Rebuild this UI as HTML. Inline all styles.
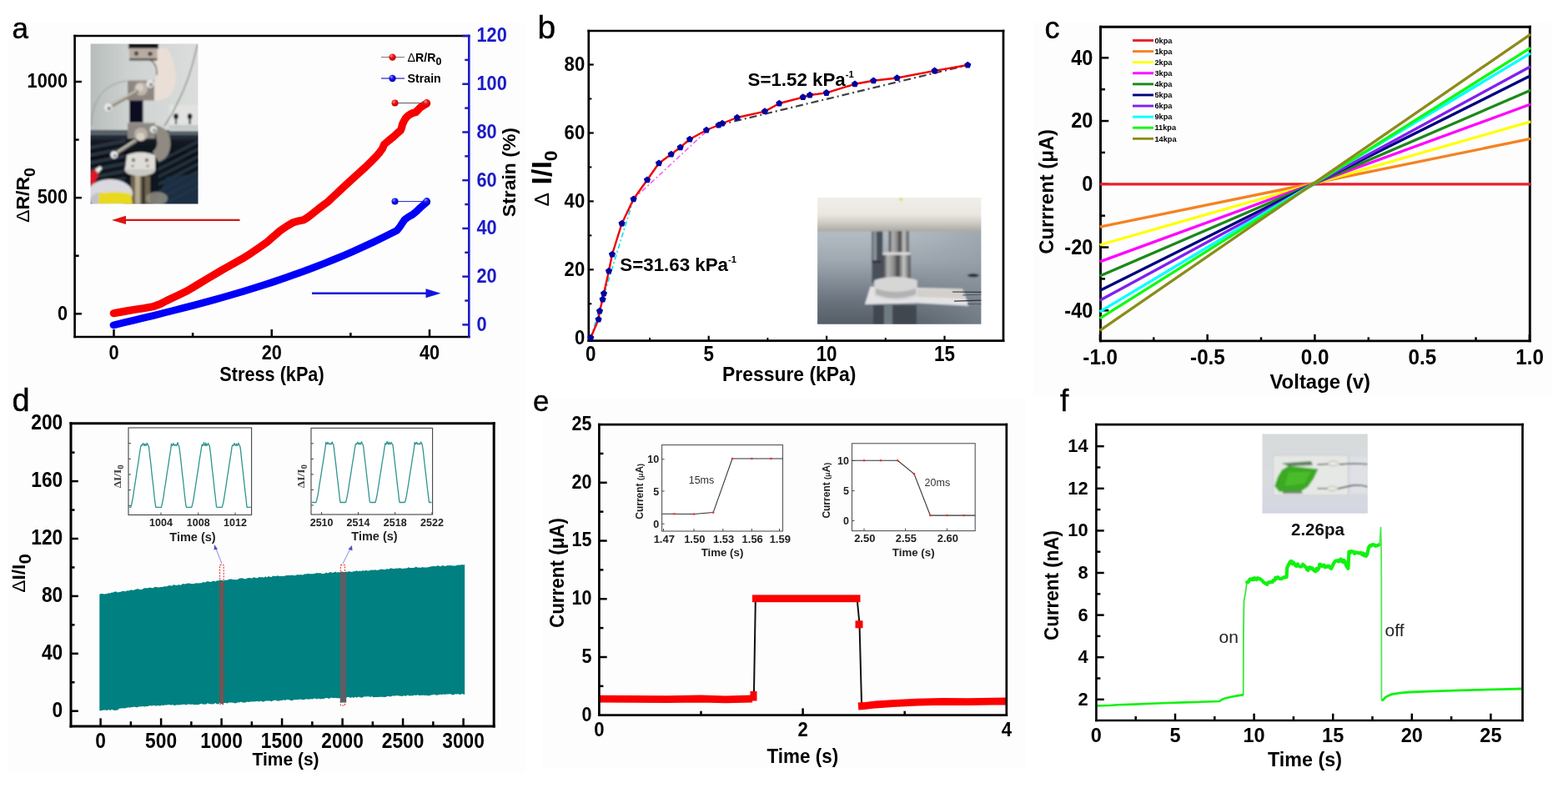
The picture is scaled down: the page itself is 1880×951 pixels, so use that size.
<!DOCTYPE html>
<html lang="en">
<head>
<meta charset="utf-8">
<title>Figure</title>
<style>
html,body{margin:0;padding:0;background:#fff;}
body{width:1880px;height:951px;overflow:hidden;}
svg{display:block;font-family:"Liberation Sans",sans-serif;filter:blur(0.55px);}
</style>
</head>
<body>
<svg width="1880" height="951" viewBox="0 0 1880 951">
<defs>
<radialGradient id="gRed" cx="0.35" cy="0.3" r="0.7"><stop offset="0" stop-color="#ff9a9a"/><stop offset="0.4" stop-color="#f01818"/><stop offset="1" stop-color="#c00000"/></radialGradient>
<radialGradient id="gBlue" cx="0.35" cy="0.3" r="0.7"><stop offset="0" stop-color="#9a9aff"/><stop offset="0.4" stop-color="#1818f0"/><stop offset="1" stop-color="#0000b0"/></radialGradient>
<filter id="b1" x="-10%" y="-10%" width="120%" height="120%"><feGaussianBlur stdDeviation="1"/></filter>
<filter id="b2" x="-10%" y="-10%" width="120%" height="120%"><feGaussianBlur stdDeviation="2"/></filter>
<filter id="b3" x="-20%" y="-20%" width="140%" height="140%"><feGaussianBlur stdDeviation="3.5"/></filter>
</defs>
<rect x="0" y="0" width="1880" height="951" fill="#ffffff"/>
<rect x="10" y="27" width="620" height="435" fill="#fdfdfd"/>
<rect x="1240" y="27" width="620" height="447" fill="#fdfdfd"/>
<rect x="10" y="462" width="620" height="465" fill="#fdfdfd"/>
<rect x="650" y="478" width="580" height="443" fill="#fdfdfd"/>
<g id="panel-a">
<g id="photo-a"><clipPath id="cpa"><rect x="108.6" y="52.5" width="128.9" height="191.9"/></clipPath>
<linearGradient id="pa1" x1="0" y1="0" x2="1" y2="0"><stop offset="0" stop-color="#b4bbb9"/><stop offset="0.35" stop-color="#cdd2d0"/><stop offset="1" stop-color="#dcdedc"/></linearGradient>
<linearGradient id="pa2" x1="0" y1="0" x2="0" y2="1"><stop offset="0" stop-color="#1c242e"/><stop offset="0.3" stop-color="#0c1018"/><stop offset="1" stop-color="#121c28"/></linearGradient>
<g clip-path="url(#cpa)"><g filter="url(#b1)">
<rect x="104.00" y="48.00" width="138.00" height="112.00" fill="url(#pa1)" stroke="none" stroke-width="1"/>
<rect x="104.00" y="156.00" width="138.00" height="92.00" fill="url(#pa2)" stroke="none" stroke-width="1"/>
<rect x="203.00" y="126.00" width="38.00" height="31.00" fill="#e2e3e0" stroke="none" stroke-width="1"/>
<rect x="203.00" y="150.00" width="38.00" height="6.00" fill="#c4c8c8" stroke="none" stroke-width="1"/>
<ellipse cx="211" cy="139.5" rx="2.8" ry="3.6" fill="#15151c"/><rect x="210" y="140" width="2" height="9" fill="#15151c"/>
<ellipse cx="227.6" cy="139.5" rx="2.8" ry="3.6" fill="#15151c"/><rect x="226.6" y="140" width="2" height="9" fill="#15151c"/>
<rect x="104.00" y="157.00" width="138.00" height="5.00" fill="#59626a" stroke="none" stroke-width="1"/>
<rect x="104.00" y="162.00" width="138.00" height="5.00" fill="#222c36" stroke="none" stroke-width="1"/>
<polygon points="104,176 150,167 150,171 104,180" fill="#34404c" opacity="0.75"/>
<polygon points="190,192 241,166 241,170 190,196" fill="#303c48" opacity="0.75"/>
<polygon points="104,185 150,176 150,180 104,189" fill="#34404c" opacity="0.75"/>
<polygon points="190,201 241,175 241,179 190,205" fill="#303c48" opacity="0.75"/>
<polygon points="104,194 150,185 150,189 104,198" fill="#34404c" opacity="0.75"/>
<polygon points="190,210 241,184 241,188 190,214" fill="#303c48" opacity="0.75"/>
<polygon points="104,203 150,194 150,198 104,207" fill="#34404c" opacity="0.75"/>
<polygon points="190,219 241,193 241,197 190,223" fill="#303c48" opacity="0.75"/>
<polygon points="104,212 150,203 150,207 104,216" fill="#34404c" opacity="0.75"/>
<polygon points="190,228 241,202 241,206 190,232" fill="#303c48" opacity="0.75"/>
<polygon points="104,221 150,212 150,216 104,225" fill="#34404c" opacity="0.75"/>
<polygon points="190,237 241,211 241,215 190,241" fill="#303c48" opacity="0.75"/>
<polygon points="104,230 150,221 150,225 104,234" fill="#34404c" opacity="0.75"/>
<polygon points="190,246 241,220 241,224 190,250" fill="#303c48" opacity="0.75"/>
<polygon points="186,244 200,212 241,208 241,248 186,248" fill="#1e3348" opacity="0.85"/>
<path d="M186,57 L200,58 Q211,72 210.5,98 Q208,119 188,120.5 L176,120.5 L176,104 Q189,99 188,84 Q186.5,73 175,70 L175,57 Z" fill="#eadfd6"/>
<path d="M176,70 Q189,74 188,90" fill="none" stroke="#6a6a66" stroke-width="1.5"/>
<rect x="154.00" y="52.00" width="36.00" height="6.50" fill="#15151a" stroke="none" stroke-width="1"/>
<rect x="155.00" y="58.00" width="33.50" height="12.00" fill="#b7aca2" stroke="none" stroke-width="1"/>
<circle cx="163.5" cy="64" r="2.6" fill="#4a3c3a"/><circle cx="180" cy="64.5" r="2.6" fill="#4a3c3a"/>
<rect x="155.00" y="70.00" width="33.50" height="2.60" fill="#4c4c4a" stroke="none" stroke-width="1"/>
<rect x="155.00" y="118.00" width="16.50" height="29.00" fill="#0b0b22" stroke="none" stroke-width="1"/>
<rect x="153.00" y="96.50" width="32.00" height="24.00" fill="#8e8680" stroke="none" stroke-width="1"/>
<circle cx="169" cy="106.5" r="8" fill="#bfb6ab"/><circle cx="167.5" cy="105" r="4.5" fill="#d8d0c6"/>
<circle cx="180" cy="100.6" r="4.8" fill="#e6e6e6"/><circle cx="181" cy="101.6" r="2.2" fill="#8a8a8a"/>
<line x1="164" y1="110" x2="132" y2="127.5" stroke="#8a857c" stroke-width="4.6" stroke-linecap="round"/>
<line x1="163" y1="109" x2="133" y2="125.6" stroke="#d2ccc0" stroke-width="1.6" stroke-linecap="round"/>
<circle cx="129.8" cy="128.8" r="4.8" fill="#eaeaea"/><circle cx="130.8" cy="130" r="2.3" fill="#808080"/>
<path d="M109.5,150 Q110,120 128,106 Q140,98 152,97" fill="none" stroke="#8c908c" stroke-width="0.9"/>
<path d="M236.8,53 Q228,95 212,125 Q205,140 197,151" fill="none" stroke="#5d6660" stroke-width="1.1"/>
<rect x="153.00" y="147.50" width="33.00" height="18.50" fill="#8c8782" stroke="none" stroke-width="1"/>
<path d="M185,150 Q204,152 204.5,172 Q204,190 190,194 L183,182 Q190,176 188,168 Z" fill="#8f8a82"/>
<circle cx="169" cy="161" r="8" fill="#b8b0a6"/><circle cx="168.5" cy="164" r="4.8" fill="#d6d0c8"/>
<circle cx="184" cy="155.3" r="4.2" fill="#e4e4e4"/><circle cx="185" cy="156.2" r="2" fill="#8a8a8a"/>
<line x1="162.5" y1="169" x2="140" y2="183.5" stroke="#8a857c" stroke-width="4.2" stroke-linecap="round"/>
<line x1="161.5" y1="168.2" x2="141" y2="181.6" stroke="#d6d0c6" stroke-width="1.5" stroke-linecap="round"/>
<circle cx="136.8" cy="185.6" r="4.4" fill="#eeeeee"/><circle cx="137.6" cy="186.6" r="2" fill="#858585"/>
<ellipse cx="168" cy="203" rx="18.5" ry="8.5" fill="#c9c8c2"/>
<path d="M152,186 Q168,179 186,186 L186,203 L150,203 Z" fill="#dddcd6"/>
<circle cx="160" cy="192" r="2.2" fill="#77736c"/><circle cx="176" cy="192" r="2.2" fill="#77736c"/><circle cx="159" cy="199" r="1.6" fill="#8a8680"/><circle cx="177" cy="199" r="1.6" fill="#8a8680"/>
<rect x="157.00" y="211.00" width="23.00" height="34.00" fill="#6e6450" stroke="none" stroke-width="1"/>
<rect x="162.00" y="211.00" width="6.00" height="34.00" fill="#b5ab92" stroke="none" stroke-width="1"/>
<rect x="170.50" y="211.00" width="3.00" height="34.00" fill="#2e2a26" stroke="none" stroke-width="1"/>
<ellipse cx="188" cy="238" rx="13" ry="8" fill="#9a958a" opacity="0.8"/>
<polygon points="108,207 114,203 118,210 112,222 108,222" fill="#e01626"/>
<polygon points="114,203 120,199 122.5,202 117.5,208" fill="#ecece8"/>
<ellipse cx="132" cy="232" rx="27" ry="17" fill="#d9d9df"/>
<ellipse cx="120" cy="240" rx="12" ry="9" fill="#c2c2c6"/>
<path d="M118.5,232 Q138,228.5 157,232.5 L159,245 L118,245 Z" fill="#e9d91e"/>
</g></g></g>
<line x1="88.30" y1="43.00" x2="563.60" y2="43.00" stroke="#000" stroke-width="2.6"/>
<line x1="88.30" y1="404.00" x2="563.60" y2="404.00" stroke="#000" stroke-width="2.6"/>
<line x1="89.60" y1="41.70" x2="89.60" y2="405.30" stroke="#000" stroke-width="2.6"/>
<line x1="562.30" y1="41.70" x2="562.30" y2="405.30" stroke="#1a1ac8" stroke-width="2.6"/>
<line x1="89.60" y1="376.30" x2="97.90" y2="376.30" stroke="#000" stroke-width="2.5"/>
<line x1="89.60" y1="237.15" x2="97.90" y2="237.15" stroke="#000" stroke-width="2.5"/>
<line x1="89.60" y1="98.00" x2="97.90" y2="98.00" stroke="#000" stroke-width="2.5"/>
<line x1="89.60" y1="306.73" x2="94.60" y2="306.73" stroke="#000" stroke-width="2.5"/>
<line x1="89.60" y1="167.58" x2="94.60" y2="167.58" stroke="#000" stroke-width="2.5"/>
<line x1="136.50" y1="404.00" x2="136.50" y2="395.00" stroke="#000" stroke-width="2.5"/>
<line x1="325.75" y1="404.00" x2="325.75" y2="395.00" stroke="#000" stroke-width="2.5"/>
<line x1="515.00" y1="404.00" x2="515.00" y2="395.00" stroke="#000" stroke-width="2.5"/>
<line x1="231.12" y1="404.00" x2="231.12" y2="399.00" stroke="#000" stroke-width="2.5"/>
<line x1="420.38" y1="404.00" x2="420.38" y2="399.00" stroke="#000" stroke-width="2.5"/>
<line x1="562.30" y1="389.40" x2="554.30" y2="389.40" stroke="#1a1ac8" stroke-width="2.5"/>
<line x1="562.30" y1="331.67" x2="554.30" y2="331.67" stroke="#1a1ac8" stroke-width="2.5"/>
<line x1="562.30" y1="273.94" x2="554.30" y2="273.94" stroke="#1a1ac8" stroke-width="2.5"/>
<line x1="562.30" y1="216.21" x2="554.30" y2="216.21" stroke="#1a1ac8" stroke-width="2.5"/>
<line x1="562.30" y1="158.48" x2="554.30" y2="158.48" stroke="#1a1ac8" stroke-width="2.5"/>
<line x1="562.30" y1="100.75" x2="554.30" y2="100.75" stroke="#1a1ac8" stroke-width="2.5"/>
<line x1="562.30" y1="43.02" x2="554.30" y2="43.02" stroke="#1a1ac8" stroke-width="2.5"/>
<line x1="562.30" y1="360.53" x2="557.30" y2="360.53" stroke="#1a1ac8" stroke-width="2.5"/>
<line x1="562.30" y1="302.80" x2="557.30" y2="302.80" stroke="#1a1ac8" stroke-width="2.5"/>
<line x1="562.30" y1="245.07" x2="557.30" y2="245.07" stroke="#1a1ac8" stroke-width="2.5"/>
<line x1="562.30" y1="187.34" x2="557.30" y2="187.34" stroke="#1a1ac8" stroke-width="2.5"/>
<line x1="562.30" y1="129.62" x2="557.30" y2="129.62" stroke="#1a1ac8" stroke-width="2.5"/>
<line x1="562.30" y1="71.88" x2="557.30" y2="71.88" stroke="#1a1ac8" stroke-width="2.5"/>
<text transform="translate(81.00,383.60) scale(0.885,1)" font-size="24.6" text-anchor="end" font-weight="bold" fill="#000">0</text>
<text transform="translate(81.00,244.45) scale(0.885,1)" font-size="24.6" text-anchor="end" font-weight="bold" fill="#000">500</text>
<text transform="translate(81.00,105.30) scale(0.885,1)" font-size="24.6" text-anchor="end" font-weight="bold" fill="#000">1000</text>
<text transform="translate(136.50,430.50) scale(0.885,1)" font-size="24.6" text-anchor="middle" font-weight="bold" fill="#000">0</text>
<text transform="translate(325.75,430.50) scale(0.885,1)" font-size="24.6" text-anchor="middle" font-weight="bold" fill="#000">20</text>
<text transform="translate(515.00,430.50) scale(0.885,1)" font-size="24.6" text-anchor="middle" font-weight="bold" fill="#000">40</text>
<text transform="translate(571.50,396.70) scale(0.885,1)" font-size="24.6" text-anchor="start" font-weight="bold" fill="#1a1ac8">0</text>
<text transform="translate(571.50,338.97) scale(0.885,1)" font-size="24.6" text-anchor="start" font-weight="bold" fill="#1a1ac8">20</text>
<text transform="translate(571.50,281.24) scale(0.885,1)" font-size="24.6" text-anchor="start" font-weight="bold" fill="#1a1ac8">40</text>
<text transform="translate(571.50,223.51) scale(0.885,1)" font-size="24.6" text-anchor="start" font-weight="bold" fill="#1a1ac8">60</text>
<text transform="translate(571.50,165.78) scale(0.885,1)" font-size="24.6" text-anchor="start" font-weight="bold" fill="#1a1ac8">80</text>
<text transform="translate(571.50,108.05) scale(0.885,1)" font-size="24.6" text-anchor="start" font-weight="bold" fill="#1a1ac8">100</text>
<text transform="translate(571.50,50.32) scale(0.885,1)" font-size="24.6" text-anchor="start" font-weight="bold" fill="#1a1ac8">120</text>
<text transform="translate(326.00,456.50) scale(0.9,1)" font-size="24.1" text-anchor="middle" font-weight="bold" fill="#000">Stress (kPa)</text>
<text transform="translate(35.00,234.00) rotate(-90) scale(1.035,1)" font-size="22.3" text-anchor="middle" font-weight="bold" fill="#000"><tspan font-weight="normal">Δ</tspan>R/R<tspan font-size="19" dy="6.5">0</tspan></text>
<text transform="translate(617.80,206.60) rotate(-90) scale(1.03,1)" font-size="22.3" text-anchor="middle" font-weight="bold" fill="#000">Strain (%)</text>
<text transform="translate(14.50,45.50)" font-size="35" text-anchor="start" font-weight="normal" fill="#000" stroke="#000" stroke-width="0.4">a</text>
<polyline points="136.3,375.7 148.0,373.6 160.0,371.5 172.0,369.8 183.1,367.8 192.0,364.6 200.0,360.5 207.0,357.2 214.6,353.6 225.2,348.4 232.5,344.0 239.9,339.5 248.0,334.6 256.7,329.5 267.2,323.2 277.1,317.8 290.4,310.3 300.0,304.3 310.0,297.5 320.0,290.5 328.0,283.6 335.8,276.8 343.5,271.5 351.5,266.8 358.0,264.9 364.2,263.7 368.5,261.0 372.6,257.9 383.1,249.5 393.6,241.6 400.0,235.5 409.5,226.6 418.9,217.8 428.3,209.3 437.8,200.8 444.5,194.3 451.1,187.6 455.0,183.0 458.6,178.1 460.5,173.4 466.0,168.6 471.9,163.9 476.0,160.2 480.4,156.3 481.6,153.0 482.3,149.7 484.0,145.8 486.1,142.2 489.0,139.0 492.7,136.5 495.5,135.4 498.4,134.6 501.2,131.9 504.0,128.9 508.0,126.3 511.6,124.2" fill="none" stroke="#f80000" stroke-width="9.2" stroke-linecap="round" stroke-linejoin="round"/>
<polyline points="136.0,389.9 148.0,387.1 160.0,384.2 172.0,381.3 184.0,378.4 196.0,375.4 208.0,372.4 220.0,369.3 232.0,366.2 244.0,363.0 256.0,359.7 268.0,356.4 280.0,352.9 292.0,349.3 304.0,345.7 316.0,341.9 328.0,338.0 340.0,333.9 352.0,329.7 364.0,325.4 376.0,320.9 388.0,316.2 400.0,311.4 412.0,306.4 424.0,301.2 436.0,295.8 448.0,290.2 460.0,284.4 472.0,278.3 476.0,276.3 479.5,272.0 481.3,269.2 485.1,263.5 489.5,260.3 494.6,257.4 499.5,253.3 504.0,249.0 508.0,245.5 511.6,242.4" fill="none" stroke="#0000f8" stroke-width="8.7" stroke-linecap="round" stroke-linejoin="round"/>
<line x1="473.50" y1="123.60" x2="511.60" y2="123.60" stroke="#555" stroke-width="1"/>
<circle cx="473.5" cy="123.6" r="4" fill="url(#gRed)"/>
<circle cx="511.6" cy="123.6" r="4.5" fill="url(#gRed)"/>
<line x1="473.50" y1="241.60" x2="511.60" y2="241.60" stroke="#22c" stroke-width="1"/>
<circle cx="473.5" cy="241.6" r="4" fill="url(#gBlue)"/>
<circle cx="511.6" cy="241.6" r="4.5" fill="url(#gBlue)"/>
<line x1="457.00" y1="68.60" x2="485.00" y2="68.60" stroke="#777" stroke-width="1"/>
<circle cx="470.5" cy="68.6" r="4.2" fill="url(#gRed)"/>
<line x1="457.00" y1="94.00" x2="485.00" y2="94.00" stroke="#22c" stroke-width="1.2"/>
<circle cx="470.5" cy="94" r="4.2" fill="url(#gBlue)"/>
<text transform="translate(488.50,74.00) scale(0.93,1)" font-size="15.3" text-anchor="start" font-weight="bold" fill="#000"><tspan font-weight="normal">Δ</tspan>R/R<tspan font-size="13.5" dy="3.5">0</tspan></text>
<text transform="translate(488.50,98.50) scale(0.93,1)" font-size="15.3" text-anchor="start" font-weight="bold" fill="#000">Strain</text>
<line x1="148.00" y1="263.90" x2="287.50" y2="263.90" stroke="#dc1414" stroke-width="2.4"/>
<polygon points="134,263.9 151,258.7 151,269.1" fill="#dc1414"/>
<line x1="374.00" y1="351.80" x2="512.00" y2="351.80" stroke="#1414e0" stroke-width="2.6"/>
<polygon points="528.5,351.8 510.5,346.3 510.5,357.3" fill="#1414e0"/>
</g>
<g id="panel-b">
<g id="photo-b"><clipPath id="cpb"><rect x="980.1" y="237" width="196.3" height="151.7"/></clipPath>
<linearGradient id="pb1" x1="0" y1="0" x2="0" y2="1"><stop offset="0" stop-color="#b9c1c8"/><stop offset="0.35" stop-color="#9fa8b0"/><stop offset="0.75" stop-color="#69727c"/><stop offset="1" stop-color="#525a63"/></linearGradient>
<linearGradient id="pb2" x1="0" y1="0" x2="0" y2="1"><stop offset="0" stop-color="#f1efe9"/><stop offset="0.55" stop-color="#e9e7e0"/><stop offset="0.8" stop-color="#c9c7bf"/><stop offset="1" stop-color="#a9a8a2"/></linearGradient>
<linearGradient id="pb3" x1="0" y1="0" x2="1" y2="0"><stop offset="0" stop-color="#34373c"/><stop offset="0.18" stop-color="#b4b4b4"/><stop offset="0.4" stop-color="#8c8c8c"/><stop offset="0.55" stop-color="#444444"/><stop offset="0.75" stop-color="#c8c8c8"/><stop offset="1" stop-color="#4c4e52"/></linearGradient>
<linearGradient id="pb4" x1="0" y1="0" x2="1" y2="0"><stop offset="0" stop-color="#7e868e" stop-opacity="0"/><stop offset="0.5" stop-color="#8e969e" stop-opacity="0"/><stop offset="1" stop-color="#8e98a2" stop-opacity="0.55"/></linearGradient>
<g clip-path="url(#cpb)"><g filter="url(#b1)">
<rect x="976.00" y="270.00" width="205.00" height="123.00" fill="url(#pb1)" stroke="none" stroke-width="1"/>
<rect x="976.00" y="270.00" width="205.00" height="123.00" fill="url(#pb4)" stroke="none" stroke-width="1"/>
<rect x="1047.00" y="366.00" width="52.00" height="26.00" fill="#3f4750" stroke="none" stroke-width="1"/>
<rect x="1060.00" y="366.00" width="10.00" height="26.00" fill="#707a82" stroke="none" stroke-width="1"/>
<rect x="1045.40" y="277.00" width="13.00" height="62.00" fill="#4a5058" stroke="none" stroke-width="1"/>
<rect x="1047.00" y="277.00" width="4.00" height="35.00" fill="#8a929a" stroke="none" stroke-width="1"/>
<rect x="1045.40" y="313.00" width="11.00" height="2.00" fill="#20242a" stroke="none" stroke-width="1"/>
<rect x="976.00" y="233.00" width="205.00" height="44.50" fill="url(#pb2)" stroke="none" stroke-width="1"/>
<circle cx="1080.4" cy="239" r="2" fill="#e6d24a"/>
<rect x="1065.70" y="277.00" width="24.00" height="28.00" fill="url(#pb3)" stroke="none" stroke-width="1"/>
<rect x="1058.30" y="302.50" width="33.50" height="37.00" fill="url(#pb3)" stroke="none" stroke-width="1"/>
<rect x="1058.30" y="302.50" width="33.50" height="3.20" fill="#dcdcdc" stroke="none" stroke-width="1"/>
<polygon points="1037,365 1043.6,343.7 1154,346.4 1161.5,366.8 1100,363.5" fill="#e3e3e6"/>
<polygon points="1100,347 1154,347.5 1157,358 1100,356" fill="#d3cfc9"/>
<path d="M1048.2,336 Q1074,328 1099.7,336 L1099.7,355 Q1074,365 1048.2,355 Z" fill="#d6d6d6"/>
<path d="M1050,346 Q1074,354 1098,346 L1098,353 Q1074,362 1050,353 Z" fill="#b2b2b2"/>
<ellipse cx="1166.8" cy="330.3" rx="7" ry="2" fill="#1a1c20"/>
</g>
<line x1="1142.00" y1="350.00" x2="1177.00" y2="350.30" stroke="#34343a" stroke-width="1.2"/>
<line x1="1154.00" y1="354.00" x2="1177.00" y2="353.20" stroke="#55555a" stroke-width="1.0"/>
<line x1="1144.00" y1="361.20" x2="1177.00" y2="360.20" stroke="#34343a" stroke-width="1.2"/>
<line x1="1160.00" y1="364.60" x2="1177.00" y2="364.60" stroke="#55555a" stroke-width="1.0"/>
</g></g>
<line x1="704.45" y1="37.00" x2="1204.35" y2="37.00" stroke="#000" stroke-width="2.7"/>
<line x1="704.45" y1="408.70" x2="1204.35" y2="408.70" stroke="#000" stroke-width="2.7"/>
<line x1="705.80" y1="35.65" x2="705.80" y2="410.05" stroke="#000" stroke-width="2.7"/>
<line x1="1203.00" y1="35.65" x2="1203.00" y2="410.05" stroke="#000" stroke-width="2.7"/>
<line x1="705.80" y1="323.35" x2="711.80" y2="323.35" stroke="#000" stroke-width="2.2"/>
<line x1="705.80" y1="241.40" x2="711.80" y2="241.40" stroke="#000" stroke-width="2.2"/>
<line x1="705.80" y1="159.45" x2="711.80" y2="159.45" stroke="#000" stroke-width="2.2"/>
<line x1="705.80" y1="77.50" x2="711.80" y2="77.50" stroke="#000" stroke-width="2.2"/>
<line x1="705.80" y1="364.32" x2="709.40" y2="364.32" stroke="#000" stroke-width="2.0"/>
<line x1="705.80" y1="282.38" x2="709.40" y2="282.38" stroke="#000" stroke-width="2.0"/>
<line x1="705.80" y1="200.43" x2="709.40" y2="200.43" stroke="#000" stroke-width="2.0"/>
<line x1="705.80" y1="118.48" x2="709.40" y2="118.48" stroke="#000" stroke-width="2.0"/>
<line x1="849.70" y1="408.70" x2="849.70" y2="402.70" stroke="#000" stroke-width="2.2"/>
<line x1="991.10" y1="408.70" x2="991.10" y2="402.70" stroke="#000" stroke-width="2.2"/>
<line x1="1132.50" y1="408.70" x2="1132.50" y2="402.70" stroke="#000" stroke-width="2.2"/>
<line x1="779.00" y1="408.70" x2="779.00" y2="405.10" stroke="#000" stroke-width="2.0"/>
<line x1="920.40" y1="408.70" x2="920.40" y2="405.10" stroke="#000" stroke-width="2.0"/>
<line x1="1061.80" y1="408.70" x2="1061.80" y2="405.10" stroke="#000" stroke-width="2.0"/>
<text transform="translate(701.20,412.50) scale(0.9,1)" font-size="24.6" text-anchor="end" font-weight="bold" fill="#000">0</text>
<text transform="translate(701.20,330.55) scale(0.9,1)" font-size="24.6" text-anchor="end" font-weight="bold" fill="#000">20</text>
<text transform="translate(701.20,248.60) scale(0.9,1)" font-size="24.6" text-anchor="end" font-weight="bold" fill="#000">40</text>
<text transform="translate(701.20,166.65) scale(0.9,1)" font-size="24.6" text-anchor="end" font-weight="bold" fill="#000">60</text>
<text transform="translate(701.20,84.70) scale(0.9,1)" font-size="24.6" text-anchor="end" font-weight="bold" fill="#000">80</text>
<text transform="translate(708.30,432.70) scale(0.9,1)" font-size="24.9" text-anchor="middle" font-weight="bold" fill="#000">0</text>
<text transform="translate(849.70,432.70) scale(0.9,1)" font-size="24.9" text-anchor="middle" font-weight="bold" fill="#000">5</text>
<text transform="translate(991.10,432.70) scale(0.9,1)" font-size="24.9" text-anchor="middle" font-weight="bold" fill="#000">10</text>
<text transform="translate(1132.50,432.70) scale(0.9,1)" font-size="24.9" text-anchor="middle" font-weight="bold" fill="#000">15</text>
<text transform="translate(946.20,457.20) scale(0.951,1)" font-size="24.1" text-anchor="middle" font-weight="bold" fill="#000">Pressure (kPa)</text>
<text transform="translate(660.50,214.00) rotate(-90) scale(1.03,1)" font-size="33" text-anchor="middle" font-weight="bold" fill="#000"><tspan font-weight="normal" font-size="24" dy="-3">Δ</tspan><tspan dy="3"> I/I</tspan><tspan font-size="22" dy="7">0</tspan></text>
<text transform="translate(644.50,46.00)" font-size="39" text-anchor="start" font-weight="normal" fill="#000" stroke="#000" stroke-width="0.4">b</text>
<line x1="708.30" y1="405.00" x2="759.60" y2="238.70" stroke="#00e0f0" stroke-width="1.6" stroke-dasharray="6 3 2 3"/>
<line x1="759.60" y1="238.70" x2="849.00" y2="155.50" stroke="#f060f0" stroke-width="1.6" stroke-dasharray="6 3 2 3"/>
<line x1="861.70" y1="150.00" x2="1160.30" y2="78.00" stroke="#404040" stroke-width="2.2" stroke-dasharray="9 4 2 4"/>
<polyline points="708.3,405.0 717.6,383.0 719.0,373.0 722.6,359.0 724.0,352.0 730.0,325.0 734.0,305.0 745.6,268.0 759.6,238.7 776.0,215.7 790.0,195.7 804.7,185.0 815.7,176.7 827.0,167.0 847.0,156.0 861.7,150.0 866.0,148.0 883.8,141.0 917.0,133.6 934.3,124.0 962.8,116.6 971.0,114.0 990.9,111.4 1025.0,100.8 1047.3,96.8 1075.6,93.5 1120.6,84.9 1160.3,78.0" fill="none" stroke="#f00000" stroke-width="2.4" stroke-linejoin="round"/>
<polygon points="708.3,400.7 712.4,403.7 710.8,408.5 705.8,408.5 704.2,403.7" fill="#0000a0"/>
<polygon points="717.6,378.7 721.7,381.7 720.1,386.5 715.1,386.5 713.5,381.7" fill="#0000a0"/>
<polygon points="719.0,368.7 723.1,371.7 721.5,376.5 716.5,376.5 714.9,371.7" fill="#0000a0"/>
<polygon points="722.6,354.7 726.7,357.7 725.1,362.5 720.1,362.5 718.5,357.7" fill="#0000a0"/>
<polygon points="724.0,347.7 728.1,350.7 726.5,355.5 721.5,355.5 719.9,350.7" fill="#0000a0"/>
<polygon points="730.0,320.7 734.1,323.7 732.5,328.5 727.5,328.5 725.9,323.7" fill="#0000a0"/>
<polygon points="734.0,300.7 738.1,303.7 736.5,308.5 731.5,308.5 729.9,303.7" fill="#0000a0"/>
<polygon points="745.6,263.7 749.7,266.7 748.1,271.5 743.1,271.5 741.5,266.7" fill="#0000a0"/>
<polygon points="759.6,234.4 763.7,237.4 762.1,242.2 757.1,242.2 755.5,237.4" fill="#0000a0"/>
<polygon points="776.0,211.4 780.1,214.4 778.5,219.2 773.5,219.2 771.9,214.4" fill="#0000a0"/>
<polygon points="790.0,191.4 794.1,194.4 792.5,199.2 787.5,199.2 785.9,194.4" fill="#0000a0"/>
<polygon points="804.7,180.7 808.8,183.7 807.2,188.5 802.2,188.5 800.6,183.7" fill="#0000a0"/>
<polygon points="815.7,172.4 819.8,175.4 818.2,180.2 813.2,180.2 811.6,175.4" fill="#0000a0"/>
<polygon points="827.0,162.7 831.1,165.7 829.5,170.5 824.5,170.5 822.9,165.7" fill="#0000a0"/>
<polygon points="847.0,151.7 851.1,154.7 849.5,159.5 844.5,159.5 842.9,154.7" fill="#0000a0"/>
<polygon points="861.7,145.7 865.8,148.7 864.2,153.5 859.2,153.5 857.6,148.7" fill="#0000a0"/>
<polygon points="866.0,143.7 870.1,146.7 868.5,151.5 863.5,151.5 861.9,146.7" fill="#0000a0"/>
<polygon points="883.8,136.7 887.9,139.7 886.3,144.5 881.3,144.5 879.7,139.7" fill="#0000a0"/>
<polygon points="917.0,129.3 921.1,132.3 919.5,137.1 914.5,137.1 912.9,132.3" fill="#0000a0"/>
<polygon points="934.3,119.7 938.4,122.7 936.8,127.5 931.8,127.5 930.2,122.7" fill="#0000a0"/>
<polygon points="962.8,112.3 966.9,115.3 965.3,120.1 960.3,120.1 958.7,115.3" fill="#0000a0"/>
<polygon points="971.0,109.7 975.1,112.7 973.5,117.5 968.5,117.5 966.9,112.7" fill="#0000a0"/>
<polygon points="990.9,107.1 995.0,110.1 993.4,114.9 988.4,114.9 986.8,110.1" fill="#0000a0"/>
<polygon points="1025.0,96.5 1029.1,99.5 1027.5,104.3 1022.5,104.3 1020.9,99.5" fill="#0000a0"/>
<polygon points="1047.3,92.5 1051.4,95.5 1049.8,100.3 1044.8,100.3 1043.2,95.5" fill="#0000a0"/>
<polygon points="1075.6,89.2 1079.7,92.2 1078.1,97.0 1073.1,97.0 1071.5,92.2" fill="#0000a0"/>
<polygon points="1120.6,80.6 1124.7,83.6 1123.1,88.4 1118.1,88.4 1116.5,83.6" fill="#0000a0"/>
<polygon points="1160.3,73.7 1164.4,76.7 1162.8,81.5 1157.8,81.5 1156.2,76.7" fill="#0000a0"/>
<text transform="translate(743.30,325.00) scale(1.015,1)" font-size="22" text-anchor="start" font-weight="bold" fill="#000">S=31.63 kPa<tspan font-size="11" dy="-10">-1</tspan></text>
<text transform="translate(896.50,102.50) scale(1.015,1)" font-size="22" text-anchor="start" font-weight="bold" fill="#000">S=1.52 kPa<tspan font-size="11" dy="-10">-1</tspan></text>
</g>
<g id="panel-c">
<line x1="1319.50" y1="372.28" x2="1329.30" y2="372.28" stroke="#000" stroke-width="2.5"/>
<line x1="1319.50" y1="296.54" x2="1329.30" y2="296.54" stroke="#000" stroke-width="2.5"/>
<line x1="1319.50" y1="220.80" x2="1329.30" y2="220.80" stroke="#000" stroke-width="2.5"/>
<line x1="1319.50" y1="145.06" x2="1329.30" y2="145.06" stroke="#000" stroke-width="2.5"/>
<line x1="1319.50" y1="69.32" x2="1329.30" y2="69.32" stroke="#000" stroke-width="2.5"/>
<line x1="1319.50" y1="334.41" x2="1325.00" y2="334.41" stroke="#000" stroke-width="2.5"/>
<line x1="1319.50" y1="258.67" x2="1325.00" y2="258.67" stroke="#000" stroke-width="2.5"/>
<line x1="1319.50" y1="182.93" x2="1325.00" y2="182.93" stroke="#000" stroke-width="2.5"/>
<line x1="1319.50" y1="107.19" x2="1325.00" y2="107.19" stroke="#000" stroke-width="2.5"/>
<line x1="1318.90" y1="408.90" x2="1318.90" y2="400.90" stroke="#000" stroke-width="2.5"/>
<line x1="1447.65" y1="408.90" x2="1447.65" y2="400.90" stroke="#000" stroke-width="2.5"/>
<line x1="1576.40" y1="408.90" x2="1576.40" y2="400.90" stroke="#000" stroke-width="2.5"/>
<line x1="1705.15" y1="408.90" x2="1705.15" y2="400.90" stroke="#000" stroke-width="2.5"/>
<line x1="1833.90" y1="408.90" x2="1833.90" y2="400.90" stroke="#000" stroke-width="2.5"/>
<line x1="1383.28" y1="408.90" x2="1383.28" y2="404.40" stroke="#000" stroke-width="2.5"/>
<line x1="1512.03" y1="408.90" x2="1512.03" y2="404.40" stroke="#000" stroke-width="2.5"/>
<line x1="1640.78" y1="408.90" x2="1640.78" y2="404.40" stroke="#000" stroke-width="2.5"/>
<line x1="1769.53" y1="408.90" x2="1769.53" y2="404.40" stroke="#000" stroke-width="2.5"/>
<line x1="1318.05" y1="32.30" x2="1835.75" y2="32.30" stroke="#000" stroke-width="2.9"/>
<line x1="1318.05" y1="408.90" x2="1835.75" y2="408.90" stroke="#000" stroke-width="2.9"/>
<line x1="1319.50" y1="30.85" x2="1319.50" y2="410.35" stroke="#000" stroke-width="2.9"/>
<line x1="1834.30" y1="30.85" x2="1834.30" y2="410.35" stroke="#000" stroke-width="2.9"/>
<line x1="1318.70" y1="220.80" x2="1835.10" y2="220.80" stroke="#e8202a" stroke-width="3.3"/>
<line x1="1318.70" y1="272.10" x2="1835.10" y2="166.46" stroke="#f58220" stroke-width="3.3"/>
<line x1="1318.70" y1="293.76" x2="1835.10" y2="145.94" stroke="#ffff00" stroke-width="3.3"/>
<line x1="1318.70" y1="313.90" x2="1835.10" y2="125.04" stroke="#ff00ff" stroke-width="3.3"/>
<line x1="1318.70" y1="331.00" x2="1835.10" y2="108.32" stroke="#1a8a1a" stroke-width="3.3"/>
<line x1="1318.70" y1="348.48" x2="1835.10" y2="90.84" stroke="#000080" stroke-width="3.3"/>
<line x1="1318.70" y1="360.26" x2="1835.10" y2="79.82" stroke="#8020f0" stroke-width="3.3"/>
<line x1="1318.70" y1="373.94" x2="1835.10" y2="63.86" stroke="#00ffff" stroke-width="3.3"/>
<line x1="1318.70" y1="381.92" x2="1835.10" y2="57.40" stroke="#10fa10" stroke-width="3.3"/>
<line x1="1318.70" y1="396.36" x2="1835.10" y2="41.06" stroke="#8b8b1a" stroke-width="3.3"/>
<text transform="translate(1310.30,380.68) scale(0.94,1)" font-size="25" text-anchor="end" font-weight="bold" fill="#000">-40</text>
<text transform="translate(1310.30,304.94) scale(0.94,1)" font-size="25" text-anchor="end" font-weight="bold" fill="#000">-20</text>
<text transform="translate(1310.30,229.20) scale(0.94,1)" font-size="25" text-anchor="end" font-weight="bold" fill="#000">0</text>
<text transform="translate(1310.30,153.46) scale(0.94,1)" font-size="25" text-anchor="end" font-weight="bold" fill="#000">20</text>
<text transform="translate(1310.30,77.72) scale(0.94,1)" font-size="25" text-anchor="end" font-weight="bold" fill="#000">40</text>
<text transform="translate(1319.20,436.80) scale(0.97,1)" font-size="25" text-anchor="middle" font-weight="bold" fill="#000">-1.0</text>
<text transform="translate(1447.95,436.80) scale(0.97,1)" font-size="25" text-anchor="middle" font-weight="bold" fill="#000">-0.5</text>
<text transform="translate(1576.70,436.80) scale(0.97,1)" font-size="25" text-anchor="middle" font-weight="bold" fill="#000">0.0</text>
<text transform="translate(1705.45,436.80) scale(0.97,1)" font-size="25" text-anchor="middle" font-weight="bold" fill="#000">0.5</text>
<text transform="translate(1834.20,436.80) scale(0.97,1)" font-size="25" text-anchor="middle" font-weight="bold" fill="#000">1.0</text>
<text transform="translate(1582.70,466.00) scale(0.977,1)" font-size="24.5" text-anchor="middle" font-weight="bold" fill="#000">Voltage (v)</text>
<text transform="translate(1263.20,229.90) rotate(-90) scale(0.97,1)" font-size="24.6" text-anchor="middle" font-weight="bold" fill="#000">Currrent (μA)</text>
<text transform="translate(1252.50,45.50)" font-size="36" text-anchor="start" font-weight="normal" fill="#000" stroke="#000" stroke-width="0.4">c</text>
<line x1="1358.00" y1="48.50" x2="1383.00" y2="48.50" stroke="#e8202a" stroke-width="2.9"/>
<text transform="translate(1384.50,51.70)" font-size="9.2" text-anchor="start" font-weight="bold" fill="#000">0kpa</text>
<line x1="1358.00" y1="61.59" x2="1383.00" y2="61.59" stroke="#f58220" stroke-width="2.9"/>
<text transform="translate(1384.50,64.79)" font-size="9.2" text-anchor="start" font-weight="bold" fill="#000">1kpa</text>
<line x1="1358.00" y1="74.68" x2="1383.00" y2="74.68" stroke="#ffff00" stroke-width="2.9"/>
<text transform="translate(1384.50,77.88)" font-size="9.2" text-anchor="start" font-weight="bold" fill="#000">2kpa</text>
<line x1="1358.00" y1="87.77" x2="1383.00" y2="87.77" stroke="#ff00ff" stroke-width="2.9"/>
<text transform="translate(1384.50,90.97)" font-size="9.2" text-anchor="start" font-weight="bold" fill="#000">3kpa</text>
<line x1="1358.00" y1="100.86" x2="1383.00" y2="100.86" stroke="#1a8a1a" stroke-width="2.9"/>
<text transform="translate(1384.50,104.06)" font-size="9.2" text-anchor="start" font-weight="bold" fill="#000">4kpa</text>
<line x1="1358.00" y1="113.95" x2="1383.00" y2="113.95" stroke="#000080" stroke-width="2.9"/>
<text transform="translate(1384.50,117.15)" font-size="9.2" text-anchor="start" font-weight="bold" fill="#000">5kpa</text>
<line x1="1358.00" y1="127.04" x2="1383.00" y2="127.04" stroke="#8020f0" stroke-width="2.9"/>
<text transform="translate(1384.50,130.24)" font-size="9.2" text-anchor="start" font-weight="bold" fill="#000">6kpa</text>
<line x1="1358.00" y1="140.13" x2="1383.00" y2="140.13" stroke="#00ffff" stroke-width="2.9"/>
<text transform="translate(1384.50,143.33)" font-size="9.2" text-anchor="start" font-weight="bold" fill="#000">9kpa</text>
<line x1="1358.00" y1="153.22" x2="1383.00" y2="153.22" stroke="#10fa10" stroke-width="2.9"/>
<text transform="translate(1384.50,156.42)" font-size="9.2" text-anchor="start" font-weight="bold" fill="#000">11kpa</text>
<line x1="1358.00" y1="166.31" x2="1383.00" y2="166.31" stroke="#8b8b1a" stroke-width="2.9"/>
<text transform="translate(1384.50,169.51)" font-size="9.2" text-anchor="start" font-weight="bold" fill="#000">14kpa</text>
</g>
<g id="panel-d">
<polygon points="119.3,712.8 121.1,712.0 122.9,712.0 124.8,712.5 126.6,712.3 128.4,712.0 130.2,711.3 132.1,711.5 133.9,710.5 135.7,710.4 137.5,709.5 139.4,709.5 141.2,710.4 143.0,709.9 144.8,709.8 146.7,708.9 148.5,708.8 150.3,709.4 152.1,708.2 154.0,708.5 155.8,708.1 157.6,707.3 159.4,708.0 161.3,707.3 163.1,706.8 164.9,706.1 166.7,706.8 168.6,707.0 170.4,706.9 172.2,705.6 174.0,705.2 175.9,705.2 177.7,705.2 179.5,704.6 181.3,704.9 183.2,705.3 185.0,704.2 186.8,703.7 188.6,704.2 190.5,704.5 192.3,704.0 194.1,704.0 195.9,703.7 197.8,703.1 199.6,703.4 201.4,702.5 203.2,701.9 205.1,702.5 206.9,702.2 208.7,701.1 210.5,702.1 212.4,701.9 214.2,701.1 216.0,701.8 217.8,701.1 219.7,700.0 221.5,700.5 223.3,700.0 225.1,699.5 227.0,699.4 228.8,699.9 230.6,700.2 232.4,700.0 234.2,699.6 236.1,699.2 237.9,699.6 239.7,699.2 241.5,699.2 243.4,698.0 245.2,698.4 247.0,698.1 248.8,697.1 250.7,697.5 252.5,697.9 254.3,697.3 256.1,696.4 258.0,697.4 259.8,696.5 261.6,696.3 263.4,696.1 265.3,695.4 267.1,696.2 268.9,696.2 270.7,695.5 272.6,695.7 274.4,694.8 276.2,694.6 278.0,694.5 279.9,695.3 281.7,694.9 283.5,695.3 285.3,694.8 287.2,693.6 289.0,693.5 290.8,693.3 292.6,694.3 294.5,694.2 296.3,693.4 298.1,692.9 299.9,693.1 301.8,693.8 303.6,692.4 305.4,692.5 307.2,693.3 309.1,692.9 310.9,691.8 312.7,692.5 314.5,691.9 316.4,692.7 318.2,691.3 320.0,692.4 321.8,690.9 323.7,691.8 325.5,692.0 327.3,690.5 329.1,691.1 331.0,691.1 332.8,690.3 334.6,691.1 336.4,691.0 338.2,690.8 340.1,690.9 341.9,690.4 343.7,690.0 345.5,690.1 347.4,689.9 349.2,689.7 351.0,689.7 352.8,690.3 354.7,689.9 356.5,688.9 358.3,689.4 360.1,689.0 362.0,689.5 363.8,689.2 365.6,688.3 367.4,688.5 369.3,687.8 371.1,688.2 372.9,688.2 374.7,688.2 376.6,688.0 378.4,687.6 380.2,687.1 382.0,687.6 383.9,687.0 385.7,688.0 387.5,688.0 389.3,687.8 391.2,686.6 393.0,687.5 394.8,686.6 396.6,686.1 398.5,687.0 400.3,686.6 402.1,685.6 403.9,686.8 405.8,686.1 407.6,686.5 409.4,685.6 411.2,685.7 413.1,686.4 414.9,685.4 416.7,686.1 418.5,684.9 420.4,685.8 422.2,685.8 424.0,685.3 425.8,685.0 427.7,684.2 429.5,685.2 431.3,684.4 433.1,685.0 435.0,684.0 436.8,684.8 438.6,683.8 440.4,684.6 442.3,684.5 444.1,683.8 445.9,683.5 447.7,683.8 449.5,683.3 451.4,683.8 453.2,683.8 455.0,683.3 456.8,682.5 458.7,682.8 460.5,682.9 462.3,682.9 464.1,682.1 466.0,682.8 467.8,681.5 469.6,681.6 471.4,682.0 473.3,682.0 475.1,681.4 476.9,681.8 478.7,681.2 480.6,681.5 482.4,681.9 484.2,681.8 486.0,681.4 487.9,681.6 489.7,680.3 491.5,681.1 493.3,681.0 495.2,681.1 497.0,680.8 498.8,679.6 500.6,680.7 502.5,680.5 504.3,680.9 506.1,680.0 507.9,680.4 509.8,680.6 511.6,680.4 513.4,680.3 515.2,679.8 517.1,679.3 518.9,679.0 520.7,678.9 522.5,679.3 524.4,678.3 526.2,678.6 528.0,679.6 529.8,678.2 531.7,678.3 533.5,679.1 535.3,678.5 537.1,677.9 539.0,678.2 540.8,677.9 542.6,678.5 544.4,678.6 546.3,678.5 548.1,677.7 549.9,677.5 551.7,677.7 553.6,677.1 555.4,677.4 557.2,677.1 557.2,833.0 555.4,832.4 553.6,832.1 551.7,833.3 549.9,832.3 548.1,832.4 546.3,832.2 544.4,833.0 542.6,833.5 540.8,832.5 539.0,832.3 537.1,832.4 535.3,832.5 533.5,833.0 531.7,832.6 529.8,833.0 528.0,832.7 526.2,833.0 524.4,833.8 522.5,833.6 520.7,832.8 518.9,833.2 517.1,833.5 515.2,834.0 513.4,834.4 511.6,833.8 509.8,834.1 507.9,833.8 506.1,833.8 504.3,834.1 502.5,834.1 500.6,833.3 498.8,834.0 497.0,833.4 495.2,834.2 493.3,834.2 491.5,834.6 489.7,834.0 487.9,833.8 486.0,834.9 484.2,834.1 482.4,835.1 480.6,834.8 478.7,834.4 476.9,834.2 475.1,834.0 473.3,834.8 471.4,834.3 469.6,835.0 467.8,835.6 466.0,835.1 464.1,835.0 462.3,835.9 460.5,836.0 458.7,835.8 456.8,835.7 455.0,835.7 453.2,835.9 451.4,836.1 449.5,836.0 447.7,836.2 445.9,835.0 444.1,836.0 442.3,835.3 440.4,835.3 438.6,835.5 436.8,835.3 435.0,836.2 433.1,836.8 431.3,835.9 429.5,835.6 427.7,836.7 425.8,835.7 424.0,837.0 422.2,836.1 420.4,836.9 418.5,835.9 416.7,835.9 414.9,836.7 413.1,837.1 411.2,836.9 409.4,837.7 407.6,837.3 405.8,837.3 403.9,837.3 402.1,836.7 400.3,837.3 398.5,836.7 396.6,836.7 394.8,838.1 393.0,837.3 391.2,837.1 389.3,837.5 387.5,838.3 385.7,838.0 383.9,838.6 382.0,837.4 380.2,838.5 378.4,837.7 376.6,837.6 374.7,838.4 372.9,838.2 371.1,838.5 369.3,838.7 367.4,838.3 365.6,838.8 363.8,839.2 362.0,838.9 360.1,838.6 358.3,839.1 356.5,839.1 354.7,839.3 352.8,838.9 351.0,839.9 349.2,840.2 347.4,839.5 345.5,839.0 343.7,839.1 341.9,839.9 340.1,839.2 338.2,840.1 336.4,839.9 334.6,840.5 332.8,840.7 331.0,839.7 329.1,839.7 327.3,840.3 325.5,841.3 323.7,840.6 321.8,840.5 320.0,840.4 318.2,840.5 316.4,841.6 314.5,841.6 312.7,840.5 310.9,841.5 309.1,840.9 307.2,841.0 305.4,841.6 303.6,841.2 301.8,841.5 299.9,841.4 298.1,842.0 296.3,841.4 294.5,842.6 292.6,842.6 290.8,842.5 289.0,841.6 287.2,842.6 285.3,842.3 283.5,843.0 281.7,843.5 279.9,842.8 278.0,842.6 276.2,842.6 274.4,842.4 272.6,843.6 270.7,842.9 268.9,843.0 267.1,843.7 265.3,843.3 263.4,842.9 261.6,844.4 259.8,844.3 258.0,843.1 256.1,844.4 254.3,844.3 252.5,844.6 250.7,844.1 248.8,843.3 247.0,844.8 245.2,844.5 243.4,844.8 241.5,843.8 239.7,844.6 237.9,845.0 236.1,845.2 234.2,845.1 232.4,845.3 230.6,844.5 228.8,844.9 227.0,844.4 225.1,844.5 223.3,845.6 221.5,844.8 219.7,844.8 217.8,845.0 216.0,845.3 214.2,845.6 212.4,845.3 210.5,845.8 208.7,846.0 206.9,844.9 205.1,845.7 203.2,845.1 201.4,845.1 199.6,845.8 197.8,845.2 195.9,846.3 194.1,845.5 192.3,846.6 190.5,846.2 188.6,846.0 186.8,846.7 185.0,845.7 183.2,846.3 181.3,846.4 179.5,846.1 177.7,847.0 175.9,846.9 174.0,847.5 172.2,847.2 170.4,847.1 168.6,847.5 166.7,847.2 164.9,848.3 163.1,848.2 161.3,847.4 159.4,848.0 157.6,847.9 155.8,848.7 154.0,848.3 152.1,848.7 150.3,849.2 148.5,849.5 146.7,849.2 144.8,849.5 143.0,849.7 141.2,851.4 139.4,851.7 137.5,852.1 135.7,851.5 133.9,850.7 132.1,851.9 130.2,851.0 128.4,852.1 126.6,851.6 124.8,851.6 122.9,851.8 121.1,852.3 119.3,852.2" fill="#008080"/>
<rect x="263.60" y="677.50" width="4.60" height="167.00" fill="none" stroke="#e02020" stroke-width="1" stroke-dasharray="2 1.5"/>
<rect x="264.30" y="697.00" width="3.20" height="147.00" fill="#7a5252" stroke="none" stroke-width="1"/>
<rect x="408.40" y="677.50" width="5.20" height="168.50" fill="none" stroke="#e02020" stroke-width="1" stroke-dasharray="2 1.5"/>
<rect x="407.80" y="686.00" width="7.40" height="156.50" fill="#5c5e66" stroke="none" stroke-width="1"/>
<line x1="266.00" y1="676.00" x2="258.50" y2="657.00" stroke="#6a6ad0" stroke-width="0.8"/>
<polygon points="257,653 261,658.5 256.5,659.5" fill="#5050c0"/>
<line x1="411.00" y1="676.00" x2="420.00" y2="658.00" stroke="#6a6ad0" stroke-width="0.8"/>
<polygon points="422,654 422.5,660.5 417.5,658.5" fill="#5050c0"/>
<line x1="83.50" y1="507.80" x2="593.70" y2="507.80" stroke="#000" stroke-width="3.0"/>
<line x1="83.50" y1="871.00" x2="593.70" y2="871.00" stroke="#000" stroke-width="3.0"/>
<line x1="85.00" y1="506.30" x2="85.00" y2="872.50" stroke="#000" stroke-width="3.0"/>
<line x1="592.20" y1="506.30" x2="592.20" y2="872.50" stroke="#000" stroke-width="3.0"/>
<line x1="85.00" y1="852.70" x2="93.80" y2="852.70" stroke="#000" stroke-width="2.5"/>
<line x1="85.00" y1="783.80" x2="93.80" y2="783.80" stroke="#000" stroke-width="2.5"/>
<line x1="85.00" y1="714.90" x2="93.80" y2="714.90" stroke="#000" stroke-width="2.5"/>
<line x1="85.00" y1="646.00" x2="93.80" y2="646.00" stroke="#000" stroke-width="2.5"/>
<line x1="85.00" y1="577.10" x2="93.80" y2="577.10" stroke="#000" stroke-width="2.5"/>
<line x1="85.00" y1="818.25" x2="89.50" y2="818.25" stroke="#000" stroke-width="2.5"/>
<line x1="85.00" y1="749.35" x2="89.50" y2="749.35" stroke="#000" stroke-width="2.5"/>
<line x1="85.00" y1="680.45" x2="89.50" y2="680.45" stroke="#000" stroke-width="2.5"/>
<line x1="85.00" y1="611.55" x2="89.50" y2="611.55" stroke="#000" stroke-width="2.5"/>
<line x1="85.00" y1="542.65" x2="89.50" y2="542.65" stroke="#000" stroke-width="2.5"/>
<line x1="120.60" y1="871.00" x2="120.60" y2="861.40" stroke="#000" stroke-width="2.5"/>
<line x1="193.10" y1="871.00" x2="193.10" y2="861.40" stroke="#000" stroke-width="2.5"/>
<line x1="265.60" y1="871.00" x2="265.60" y2="861.40" stroke="#000" stroke-width="2.5"/>
<line x1="338.10" y1="871.00" x2="338.10" y2="861.40" stroke="#000" stroke-width="2.5"/>
<line x1="410.60" y1="871.00" x2="410.60" y2="861.40" stroke="#000" stroke-width="2.5"/>
<line x1="483.10" y1="871.00" x2="483.10" y2="861.40" stroke="#000" stroke-width="2.5"/>
<line x1="555.60" y1="871.00" x2="555.60" y2="861.40" stroke="#000" stroke-width="2.5"/>
<line x1="156.85" y1="871.00" x2="156.85" y2="865.20" stroke="#000" stroke-width="2.5"/>
<line x1="229.35" y1="871.00" x2="229.35" y2="865.20" stroke="#000" stroke-width="2.5"/>
<line x1="301.85" y1="871.00" x2="301.85" y2="865.20" stroke="#000" stroke-width="2.5"/>
<line x1="374.35" y1="871.00" x2="374.35" y2="865.20" stroke="#000" stroke-width="2.5"/>
<line x1="446.85" y1="871.00" x2="446.85" y2="865.20" stroke="#000" stroke-width="2.5"/>
<line x1="519.35" y1="871.00" x2="519.35" y2="865.20" stroke="#000" stroke-width="2.5"/>
<text transform="translate(75.20,859.70) scale(0.893,1)" font-size="25.5" text-anchor="end" font-weight="bold" fill="#000">0</text>
<text transform="translate(75.20,790.80) scale(0.893,1)" font-size="25.5" text-anchor="end" font-weight="bold" fill="#000">40</text>
<text transform="translate(75.20,721.90) scale(0.893,1)" font-size="25.5" text-anchor="end" font-weight="bold" fill="#000">80</text>
<text transform="translate(75.20,653.00) scale(0.893,1)" font-size="25.5" text-anchor="end" font-weight="bold" fill="#000">120</text>
<text transform="translate(75.20,584.10) scale(0.893,1)" font-size="25.5" text-anchor="end" font-weight="bold" fill="#000">160</text>
<text transform="translate(75.20,515.20) scale(0.893,1)" font-size="25.5" text-anchor="end" font-weight="bold" fill="#000">200</text>
<text transform="translate(120.60,897.00) scale(0.893,1)" font-size="25.5" text-anchor="middle" font-weight="bold" fill="#000">0</text>
<text transform="translate(193.10,897.00) scale(0.893,1)" font-size="25.5" text-anchor="middle" font-weight="bold" fill="#000">500</text>
<text transform="translate(265.60,897.00) scale(0.893,1)" font-size="25.5" text-anchor="middle" font-weight="bold" fill="#000">1000</text>
<text transform="translate(338.10,897.00) scale(0.893,1)" font-size="25.5" text-anchor="middle" font-weight="bold" fill="#000">1500</text>
<text transform="translate(410.60,897.00) scale(0.893,1)" font-size="25.5" text-anchor="middle" font-weight="bold" fill="#000">2000</text>
<text transform="translate(483.10,897.00) scale(0.893,1)" font-size="25.5" text-anchor="middle" font-weight="bold" fill="#000">2500</text>
<text transform="translate(555.60,897.00) scale(0.893,1)" font-size="25.5" text-anchor="middle" font-weight="bold" fill="#000">3000</text>
<text transform="translate(342.60,918.00) scale(0.985,1)" font-size="21.3" text-anchor="middle" font-weight="bold" fill="#000">Time (s)</text>
<text transform="translate(30.00,687.50) rotate(-90) scale(1.06,1)" font-size="21.5" text-anchor="middle" font-weight="bold" fill="#000"><tspan font-weight="normal">Δ</tspan>I/I<tspan font-size="21" dy="6.5">0</tspan></text>
<text transform="translate(14.50,493.00)" font-size="38" text-anchor="start" font-weight="normal" fill="#000" stroke="#000" stroke-width="0.4">d</text>
<rect x="154.00" y="513.00" width="147.60" height="104.50" fill="#ffffff" stroke="#444" stroke-width="1.1"/>
<line x1="193.00" y1="617.50" x2="193.00" y2="614.50" stroke="#444" stroke-width="1"/>
<line x1="237.70" y1="617.50" x2="237.70" y2="614.50" stroke="#444" stroke-width="1"/>
<line x1="282.00" y1="617.50" x2="282.00" y2="614.50" stroke="#444" stroke-width="1"/>
<line x1="154.00" y1="531.66" x2="157.00" y2="531.66" stroke="#444" stroke-width="1"/>
<line x1="154.00" y1="550.32" x2="157.00" y2="550.32" stroke="#444" stroke-width="1"/>
<line x1="154.00" y1="568.98" x2="157.00" y2="568.98" stroke="#444" stroke-width="1"/>
<line x1="154.00" y1="587.64" x2="157.00" y2="587.64" stroke="#444" stroke-width="1"/>
<line x1="154.00" y1="606.30" x2="157.00" y2="606.30" stroke="#444" stroke-width="1"/>
<polyline points="154.5,608.3 155.2,608.3 156.0,608.3 156.8,608.3 157.5,605.9 158.2,602.5 159.0,599.0 159.8,594.1 160.5,589.2 161.2,584.3 162.0,579.3 162.8,574.4 163.5,569.5 164.2,564.6 165.0,559.7 165.8,554.8 166.5,549.9 167.2,545.0 168.0,540.1 168.8,535.2 169.5,533.8 170.2,534.4 171.0,532.6 171.8,531.6 172.5,534.1 173.2,534.3 174.0,532.2 174.8,534.3 175.5,534.0 176.2,531.5 177.0,532.7 177.8,534.4 178.5,535.9 179.2,542.6 180.0,549.4 180.8,556.1 181.5,562.8 182.2,569.6 183.0,576.3 183.8,583.1 184.5,589.8 185.2,596.5 186.0,603.3 186.8,608.3 187.5,608.3 188.2,608.3 189.0,608.3 189.8,608.3 190.5,608.3 191.2,608.3 192.0,608.3 192.8,608.3 193.5,608.3 194.2,604.8 195.0,601.3 195.8,597.3 196.5,592.4 197.2,587.5 198.0,582.6 198.8,577.7 199.5,572.8 200.2,567.9 201.0,563.0 201.8,558.1 202.5,553.2 203.2,548.3 204.0,543.4 204.8,538.4 205.5,532.1 206.2,534.3 207.0,534.1 207.8,531.7 208.5,532.6 209.2,534.4 210.0,533.8 210.8,533.1 211.5,534.5 212.2,533.3 213.0,530.7 213.8,533.5 214.5,534.5 215.2,538.1 216.0,544.9 216.8,551.6 217.5,558.3 218.2,565.1 219.0,571.8 219.8,578.6 220.5,585.3 221.2,592.1 222.0,598.8 222.8,605.5 223.5,608.3 224.2,608.3 225.0,608.3 225.8,608.3 226.5,608.3 227.2,608.3 228.0,608.3 228.8,608.3 229.5,608.3 230.2,607.1 231.0,603.6 231.8,600.1 232.5,595.7 233.2,590.8 234.0,585.9 234.8,581.0 235.5,576.1 236.2,571.2 237.0,566.3 237.8,561.3 238.5,556.4 239.2,551.5 240.0,546.6 240.8,541.7 241.5,536.8 242.2,533.0 243.0,534.5 243.8,533.4 244.5,530.6 245.2,533.4 246.0,534.5 246.8,531.2 247.5,533.8 248.2,534.4 249.0,532.5 249.8,531.8 250.5,534.1 251.2,534.2 252.0,540.4 252.8,547.1 253.5,553.9 254.2,560.6 255.0,567.3 255.8,574.1 256.5,580.8 257.2,587.6 258.0,594.3 258.8,601.0 259.5,607.8 260.2,608.3 261.0,608.3 261.8,608.3 262.5,608.3 263.2,608.3 264.0,608.3 264.8,608.3 265.5,608.3 266.2,608.3 267.0,605.9 267.8,602.5 268.5,599.0 269.2,594.1 270.0,589.2 270.8,584.3 271.5,579.3 272.2,574.4 273.0,569.5 273.8,564.6 274.5,559.7 275.2,554.8 276.0,549.9 276.8,545.0 277.5,540.1 278.2,535.2 279.0,533.8 279.8,534.4 280.5,532.6 281.2,531.6 282.0,534.1 282.8,534.3 283.5,532.2 284.2,534.3 285.0,534.0 285.8,531.5 286.5,532.7 287.2,534.4 288.0,535.9 288.8,542.6 289.5,549.4 290.2,556.1 291.0,562.8 291.8,569.6 292.5,576.3 293.2,583.1 294.0,589.8 294.8,596.5 295.5,603.3 296.2,608.3 297.0,608.3 297.8,608.3 298.5,608.3 299.2,608.3 300.0,608.3 300.8,608.3" fill="none" stroke="#2f9490" stroke-width="1.3" stroke-linejoin="round"/>
<text transform="translate(193.00,631.00)" font-size="12.5" text-anchor="middle" font-weight="bold" fill="#222">1004</text>
<text transform="translate(237.70,631.00)" font-size="12.5" text-anchor="middle" font-weight="bold" fill="#222">1008</text>
<text transform="translate(282.00,631.00)" font-size="12.5" text-anchor="middle" font-weight="bold" fill="#222">1012</text>
<text transform="translate(231.00,648.50)" font-size="14.5" text-anchor="middle" font-weight="bold" fill="#222">Time (s)</text>
<text transform="translate(145.00,571.25) rotate(-90)" font-size="13.5" text-anchor="middle" font-weight="bold" fill="#444" font-family='"Liberation Serif", serif'>ΔI/I<tspan font-size="11" dy="3">0</tspan></text>
<rect x="373.00" y="513.40" width="145.60" height="103.60" fill="#ffffff" stroke="#444" stroke-width="1.1"/>
<line x1="385.60" y1="617.00" x2="385.60" y2="614.00" stroke="#444" stroke-width="1"/>
<line x1="429.50" y1="617.00" x2="429.50" y2="614.00" stroke="#444" stroke-width="1"/>
<line x1="473.70" y1="617.00" x2="473.70" y2="614.00" stroke="#444" stroke-width="1"/>
<line x1="518.00" y1="617.00" x2="518.00" y2="614.00" stroke="#444" stroke-width="1"/>
<line x1="373.00" y1="531.90" x2="376.00" y2="531.90" stroke="#444" stroke-width="1"/>
<line x1="373.00" y1="550.40" x2="376.00" y2="550.40" stroke="#444" stroke-width="1"/>
<line x1="373.00" y1="568.90" x2="376.00" y2="568.90" stroke="#444" stroke-width="1"/>
<line x1="373.00" y1="587.40" x2="376.00" y2="587.40" stroke="#444" stroke-width="1"/>
<line x1="373.00" y1="605.90" x2="376.00" y2="605.90" stroke="#444" stroke-width="1"/>
<polyline points="373.5,602.5 374.2,602.5 375.0,602.5 375.8,602.5 376.5,602.5 377.2,602.5 378.0,602.5 378.8,602.5 379.5,600.9 380.2,597.5 381.0,594.2 381.8,589.6 382.5,584.8 383.2,580.1 384.0,575.3 384.8,570.6 385.5,565.8 386.2,561.1 387.0,556.3 387.8,551.6 388.5,546.8 389.2,542.1 390.0,537.3 390.8,530.4 391.5,532.7 392.2,532.6 393.0,530.3 393.8,531.2 394.5,532.9 395.2,532.2 396.0,531.9 396.8,533.0 397.5,531.6 398.2,530.0 399.0,532.4 399.8,532.8 400.5,538.1 401.2,544.6 402.0,551.1 402.8,557.6 403.5,564.2 404.2,570.7 405.0,577.2 405.8,583.8 406.5,590.3 407.2,596.8 408.0,602.5 408.8,602.5 409.5,602.5 410.2,602.5 411.0,602.5 411.8,602.5 412.5,602.5 413.2,602.5 414.0,602.5 414.8,602.0 415.5,598.7 416.2,595.3 417.0,591.2 417.8,586.4 418.5,581.7 419.2,576.9 420.0,572.2 420.8,567.4 421.5,562.7 422.2,557.9 423.0,553.1 423.8,548.4 424.5,543.6 425.2,538.9 426.0,534.1 426.8,532.1 427.5,532.9 428.2,531.3 429.0,530.3 429.8,532.6 430.5,532.7 431.2,531.1 432.0,532.9 432.8,532.3 433.5,529.7 434.2,531.8 435.0,533.0 435.8,535.9 436.5,542.4 437.2,548.9 438.0,555.5 438.8,562.0 439.5,568.5 440.2,575.1 441.0,581.6 441.8,588.1 442.5,594.6 443.2,601.2 444.0,602.5 444.8,602.5 445.5,602.5 446.2,602.5 447.0,602.5 447.8,602.5 448.5,602.5 449.2,602.5 450.0,602.5 450.8,599.8 451.5,596.4 452.2,592.8 453.0,588.0 453.8,583.3 454.5,578.5 455.2,573.7 456.0,569.0 456.8,564.2 457.5,559.5 458.2,554.7 459.0,550.0 459.8,545.2 460.5,540.5 461.2,535.7 462.0,531.4 462.8,532.9 463.5,532.1 464.2,529.3 465.0,532.0 465.8,532.9 466.5,530.1 467.2,532.5 468.0,532.7 468.8,530.7 469.5,530.9 470.2,532.8 471.0,533.7 471.8,540.2 472.5,546.8 473.2,553.3 474.0,559.8 474.8,566.3 475.5,572.9 476.2,579.4 477.0,585.9 477.8,592.5 478.5,599.0 479.2,602.5 480.0,602.5 480.8,602.5 481.5,602.5 482.2,602.5 483.0,602.5 483.8,602.5 484.5,602.5 485.2,602.5 486.0,600.9 486.8,597.5 487.5,594.2 488.2,589.6 489.0,584.8 489.8,580.1 490.5,575.3 491.2,570.6 492.0,565.8 492.8,561.1 493.5,556.3 494.2,551.6 495.0,546.8 495.8,542.1 496.5,537.3 497.2,530.4 498.0,532.7 498.8,532.6 499.5,530.3 500.2,531.2 501.0,532.9 501.8,532.2 502.5,531.9 503.2,533.0 504.0,531.6 504.8,530.0 505.5,532.4 506.2,532.8 507.0,538.1 507.8,544.6 508.5,551.1 509.2,557.6 510.0,564.2 510.8,570.7 511.5,577.2 512.2,583.8 513.0,590.3 513.8,596.8 514.5,602.5 515.2,602.5 516.0,602.5 516.8,602.5 517.5,602.5" fill="none" stroke="#2f9490" stroke-width="1.3" stroke-linejoin="round"/>
<text transform="translate(385.60,630.50)" font-size="12.5" text-anchor="middle" font-weight="bold" fill="#222">2510</text>
<text transform="translate(429.50,630.50)" font-size="12.5" text-anchor="middle" font-weight="bold" fill="#222">2514</text>
<text transform="translate(473.70,630.50)" font-size="12.5" text-anchor="middle" font-weight="bold" fill="#222">2518</text>
<text transform="translate(518.00,630.50)" font-size="12.5" text-anchor="middle" font-weight="bold" fill="#222">2522</text>
<text transform="translate(449.00,648.00)" font-size="14.5" text-anchor="middle" font-weight="bold" fill="#222">Time (s)</text>
<text transform="translate(364.50,571.20) rotate(-90)" font-size="13.5" text-anchor="middle" font-weight="bold" fill="#444" font-family='"Liberation Serif", serif'>ΔI/I<tspan font-size="11" dy="3">0</tspan></text>
</g>
<g id="panel-e">
<line x1="904.00" y1="829.00" x2="905.80" y2="722.00" stroke="#111" stroke-width="2.0"/>
<line x1="1028.00" y1="722.00" x2="1030.50" y2="748.00" stroke="#111" stroke-width="2.0"/>
<line x1="1030.50" y1="748.00" x2="1033.00" y2="843.00" stroke="#111" stroke-width="2.0"/>
<polyline points="719.0,838.2 760.0,838.4 800.0,838.6 840.0,838.0 870.0,838.8 902.0,838.0" fill="none" stroke="#fa0000" stroke-width="8.8"/>
<rect x="899.50" y="829.00" width="8.00" height="11.50" fill="#fa0000" stroke="none" stroke-width="1"/>
<rect x="902.00" y="713.40" width="129.50" height="8.80" fill="#fa0000" stroke="none" stroke-width="1"/>
<rect x="1025.50" y="744.30" width="9.00" height="9.00" fill="#fa0000" stroke="none" stroke-width="1"/>
<polyline points="1029.0,847.0 1036.0,846.5 1050.0,845.0 1070.0,843.6 1100.0,842.2 1130.0,841.4 1160.0,841.6 1190.0,841.2 1206.0,841.0" fill="none" stroke="#fa0000" stroke-width="8.8"/>
<line x1="717.05" y1="509.10" x2="1208.15" y2="509.10" stroke="#000" stroke-width="2.7"/>
<line x1="717.05" y1="857.70" x2="1208.15" y2="857.70" stroke="#000" stroke-width="2.7"/>
<line x1="718.40" y1="507.75" x2="718.40" y2="859.05" stroke="#000" stroke-width="2.7"/>
<line x1="1206.80" y1="507.75" x2="1206.80" y2="859.05" stroke="#000" stroke-width="2.7"/>
<line x1="718.40" y1="787.98" x2="727.70" y2="787.98" stroke="#000" stroke-width="2.5"/>
<line x1="718.40" y1="718.25" x2="727.70" y2="718.25" stroke="#000" stroke-width="2.5"/>
<line x1="718.40" y1="648.53" x2="727.70" y2="648.53" stroke="#000" stroke-width="2.5"/>
<line x1="718.40" y1="578.80" x2="727.70" y2="578.80" stroke="#000" stroke-width="2.5"/>
<line x1="718.40" y1="822.84" x2="723.40" y2="822.84" stroke="#000" stroke-width="2.5"/>
<line x1="718.40" y1="753.11" x2="723.40" y2="753.11" stroke="#000" stroke-width="2.5"/>
<line x1="718.40" y1="683.39" x2="723.40" y2="683.39" stroke="#000" stroke-width="2.5"/>
<line x1="718.40" y1="613.66" x2="723.40" y2="613.66" stroke="#000" stroke-width="2.5"/>
<line x1="718.40" y1="543.94" x2="723.40" y2="543.94" stroke="#000" stroke-width="2.5"/>
<line x1="962.60" y1="857.70" x2="962.60" y2="849.40" stroke="#000" stroke-width="2.5"/>
<line x1="840.50" y1="857.70" x2="840.50" y2="852.70" stroke="#000" stroke-width="2.5"/>
<line x1="1084.70" y1="857.70" x2="1084.70" y2="852.70" stroke="#000" stroke-width="2.5"/>
<text transform="translate(709.50,864.50) scale(0.885,1)" font-size="24.3" text-anchor="end" font-weight="bold" fill="#000">0</text>
<text transform="translate(709.50,794.77) scale(0.885,1)" font-size="24.3" text-anchor="end" font-weight="bold" fill="#000">5</text>
<text transform="translate(709.50,725.05) scale(0.885,1)" font-size="24.3" text-anchor="end" font-weight="bold" fill="#000">10</text>
<text transform="translate(709.50,655.33) scale(0.885,1)" font-size="24.3" text-anchor="end" font-weight="bold" fill="#000">15</text>
<text transform="translate(709.50,585.60) scale(0.885,1)" font-size="24.3" text-anchor="end" font-weight="bold" fill="#000">20</text>
<text transform="translate(709.50,515.88) scale(0.885,1)" font-size="24.3" text-anchor="end" font-weight="bold" fill="#000">25</text>
<text transform="translate(718.40,883.00) scale(0.95,1)" font-size="23.3" text-anchor="middle" font-weight="bold" fill="#000">0</text>
<text transform="translate(962.60,883.00) scale(0.95,1)" font-size="23.3" text-anchor="middle" font-weight="bold" fill="#000">2</text>
<text transform="translate(1206.80,883.00) scale(0.95,1)" font-size="23.3" text-anchor="middle" font-weight="bold" fill="#000">4</text>
<text transform="translate(962.40,914.80) scale(0.977,1)" font-size="23" text-anchor="middle" font-weight="bold" fill="#000">Time (s)</text>
<text transform="translate(675.50,687.00) rotate(-90) scale(0.912,1)" font-size="24.6" text-anchor="middle" font-weight="bold" fill="#000">Current (μA)</text>
<text transform="translate(639.00,493.30)" font-size="35" text-anchor="start" font-weight="normal" fill="#000" stroke="#000" stroke-width="0.4">e</text>
<rect x="793.60" y="533.60" width="144.90" height="103.40" fill="#ffffff" stroke="#555" stroke-width="1.1"/>
<polyline points="793.6,616.3 832.0,616.5 855.2,614.6 878.0,550.0 938.5,550.0" fill="none" stroke="#333" stroke-width="1.1"/>
<circle cx="808.5" cy="616.3" r="1.3" fill="#f03030"/>
<circle cx="832.0" cy="616.5" r="1.3" fill="#f03030"/>
<circle cx="855.2" cy="614.6" r="1.3" fill="#f03030"/>
<circle cx="878.0" cy="550.0" r="1.3" fill="#f03030"/>
<circle cx="901.4" cy="550.0" r="1.3" fill="#f03030"/>
<circle cx="924.5" cy="550.0" r="1.3" fill="#f03030"/>
<line x1="793.60" y1="550.80" x2="796.60" y2="550.80" stroke="#444" stroke-width="1"/>
<text transform="translate(790.10,555.40)" font-size="12.5" text-anchor="end" font-weight="bold" fill="#222">10</text>
<line x1="793.60" y1="589.00" x2="796.60" y2="589.00" stroke="#444" stroke-width="1"/>
<text transform="translate(790.10,593.60)" font-size="12.5" text-anchor="end" font-weight="bold" fill="#222">5</text>
<line x1="793.60" y1="628.20" x2="796.60" y2="628.20" stroke="#444" stroke-width="1"/>
<text transform="translate(790.10,632.80)" font-size="12.5" text-anchor="end" font-weight="bold" fill="#222">0</text>
<line x1="795.50" y1="637.00" x2="795.50" y2="634.00" stroke="#444" stroke-width="1"/>
<text transform="translate(796.30,650.60)" font-size="13" text-anchor="middle" font-weight="bold" fill="#222">1.47</text>
<line x1="832.00" y1="637.00" x2="832.00" y2="634.00" stroke="#444" stroke-width="1"/>
<text transform="translate(832.80,650.60)" font-size="13" text-anchor="middle" font-weight="bold" fill="#222">1.50</text>
<line x1="866.80" y1="637.00" x2="866.80" y2="634.00" stroke="#444" stroke-width="1"/>
<text transform="translate(867.60,650.60)" font-size="13" text-anchor="middle" font-weight="bold" fill="#222">1.53</text>
<line x1="901.40" y1="637.00" x2="901.40" y2="634.00" stroke="#444" stroke-width="1"/>
<text transform="translate(902.20,650.60)" font-size="13" text-anchor="middle" font-weight="bold" fill="#222">1.56</text>
<line x1="934.50" y1="637.00" x2="934.50" y2="634.00" stroke="#444" stroke-width="1"/>
<text transform="translate(935.30,650.60)" font-size="13" text-anchor="middle" font-weight="bold" fill="#222">1.59</text>
<text transform="translate(866.00,667.30)" font-size="13.3" text-anchor="middle" font-weight="bold" fill="#222">Time (s)</text>
<text transform="translate(771.00,589.30) rotate(-90)" font-size="12" text-anchor="middle" font-weight="bold" fill="#222">Current <tspan font-size="9">(μ</tspan>A<tspan font-size="9">)</tspan></text>
<text transform="translate(825.70,580.00)" font-size="12.5" text-anchor="start" font-weight="normal" fill="#333">15ms</text>
<rect x="1021.50" y="531.80" width="147.70" height="104.80" fill="#ffffff" stroke="#555" stroke-width="1.1"/>
<polyline points="1021.5,552.3 1076.3,552.3 1096.0,568.4 1115.4,618.1 1169.2,618.1" fill="none" stroke="#333" stroke-width="1.1"/>
<circle cx="1036.0" cy="552.3" r="1.3" fill="#f03030"/>
<circle cx="1056.0" cy="552.3" r="1.3" fill="#f03030"/>
<circle cx="1076.3" cy="552.3" r="1.3" fill="#f03030"/>
<circle cx="1096.0" cy="568.4" r="1.3" fill="#f03030"/>
<circle cx="1115.4" cy="618.1" r="1.3" fill="#f03030"/>
<circle cx="1135.6" cy="618.1" r="1.3" fill="#f03030"/>
<circle cx="1155.6" cy="618.1" r="1.3" fill="#f03030"/>
<line x1="1021.50" y1="552.50" x2="1024.50" y2="552.50" stroke="#444" stroke-width="1"/>
<text transform="translate(1018.00,557.10)" font-size="12.5" text-anchor="end" font-weight="bold" fill="#222">10</text>
<line x1="1021.50" y1="588.60" x2="1024.50" y2="588.60" stroke="#444" stroke-width="1"/>
<text transform="translate(1018.00,593.20)" font-size="12.5" text-anchor="end" font-weight="bold" fill="#222">5</text>
<line x1="1021.50" y1="624.40" x2="1024.50" y2="624.40" stroke="#444" stroke-width="1"/>
<text transform="translate(1018.00,629.00)" font-size="12.5" text-anchor="end" font-weight="bold" fill="#222">0</text>
<line x1="1036.00" y1="636.60" x2="1036.00" y2="633.60" stroke="#444" stroke-width="1"/>
<text transform="translate(1036.80,650.20)" font-size="13" text-anchor="middle" font-weight="bold" fill="#222">2.50</text>
<line x1="1085.60" y1="636.60" x2="1085.60" y2="633.60" stroke="#444" stroke-width="1"/>
<text transform="translate(1086.40,650.20)" font-size="13" text-anchor="middle" font-weight="bold" fill="#222">2.55</text>
<line x1="1135.60" y1="636.60" x2="1135.60" y2="633.60" stroke="#444" stroke-width="1"/>
<text transform="translate(1136.40,650.20)" font-size="13" text-anchor="middle" font-weight="bold" fill="#222">2.60</text>
<text transform="translate(1095.20,666.90)" font-size="13.3" text-anchor="middle" font-weight="bold" fill="#222">Time (s)</text>
<text transform="translate(995.00,588.20) rotate(-90)" font-size="12" text-anchor="middle" font-weight="bold" fill="#222">Current <tspan font-size="9">(μ</tspan>A<tspan font-size="9">)</tspan></text>
<text transform="translate(1108.60,582.50)" font-size="12.5" text-anchor="start" font-weight="normal" fill="#333">20ms</text>
</g>
<g id="panel-f">
<g id="photo-f"><clipPath id="cpf"><rect x="1513.5" y="520.6" width="126.3" height="95.1"/></clipPath>
<linearGradient id="pf1" x1="0" y1="0" x2="0" y2="1"><stop offset="0" stop-color="#d6dadb"/><stop offset="0.5" stop-color="#d9dcdf"/><stop offset="1" stop-color="#d3d6e2"/></linearGradient>
<g clip-path="url(#cpf)"><g filter="url(#b1)">
<rect x="1510.00" y="517.00" width="134.00" height="102.00" fill="url(#pf1)" stroke="none" stroke-width="1"/>
<rect x="1526.50" y="546.00" width="90.00" height="48.00" fill="#e6e8e6" stroke="none" stroke-width="1"/>
<rect x="1526.50" y="546.00" width="90.00" height="48.00" fill="none" stroke="#c2c6c4" stroke-width="0.8"/>
<rect x="1619.00" y="548.00" width="21.00" height="44.00" fill="#dfe1e6" stroke="none" stroke-width="1"/>
<polygon points="1528.2,583 1532,572 1537,563.5 1545,558.8 1580.5,562.6 1575,574 1568,584 1561,588.6 1533.9,589.8" fill="#3aa922"/>
<polygon points="1536.5,555.5 1572,553 1574,558 1545,559" fill="#3f6a3a" opacity="0.8"/>
<polygon points="1538,589 1560,588 1562,592 1538,592" fill="#456a40" opacity="0.7"/>
<polygon points="1545,566 1572,566 1564,580 1540,583" fill="#4cc030" opacity="0.8"/>
<line x1="1579.50" y1="557.10" x2="1594.20" y2="556.40" stroke="#7a7460" stroke-width="1.6"/>
<ellipse cx="1598.6" cy="555.8" rx="6.6" ry="3" fill="#e8e8e0" stroke="#a8a898" stroke-width="0.8"/>
<path d="M1606,556.8 Q1622,555.5 1640,556.6" fill="none" stroke="#262622" stroke-width="1.4"/>
<line x1="1579.50" y1="585.80" x2="1594.20" y2="585.80" stroke="#7a7460" stroke-width="1.6"/>
<ellipse cx="1597.1" cy="585.8" rx="6" ry="2.8" fill="#e8e8e0" stroke="#a8a898" stroke-width="0.8"/>
<path d="M1604,586 Q1614,584 1621,582.2 Q1632,581.2 1640,583.8" fill="none" stroke="#262622" stroke-width="1.4"/>
</g></g></g>
<polyline points="1314.4,846.4 1330.0,846.0 1340.0,845.3 1360.0,844.6 1380.0,843.8 1400.0,843.0 1420.0,842.4 1440.0,841.8 1462.0,841.0 1465.0,839.0 1468.4,837.6 1475.0,836.0 1482.0,834.6 1490.0,833.4 1490.7,832.0" fill="none" stroke="#10f210" stroke-width="2.6" stroke-linejoin="round"/>
<polyline points="1490.7,832.0 1490.9,760.0 1491.2,740.0 1491.5,721.0 1493.3,710.9 1494.6,700.8 1495.2,698.2" fill="none" stroke="#38e838" stroke-width="1.8" stroke-linejoin="round"/>
<polyline points="1495.2,698.2 1496.5,698.2 1497.8,695.8 1499.0,694.4 1500.3,695.1 1501.6,694.0 1502.8,695.2 1504.1,693.1 1505.4,694.6 1506.6,695.1 1507.9,693.2 1509.2,693.8 1510.4,694.1 1511.7,695.0 1512.9,695.7 1514.2,697.3 1515.4,698.6 1516.7,699.2 1517.9,700.3 1519.2,700.8 1520.5,698.7 1521.8,698.3 1523.0,698.0 1524.3,698.2 1525.6,698.1 1526.8,695.8 1528.1,695.8 1529.3,693.0 1530.6,693.8 1531.8,692.2 1533.1,692.8 1534.3,694.1 1535.6,694.1 1536.8,693.9 1538.1,693.2 1539.6,692.1 1541.1,692.4 1542.6,691.9 1543.2,680.6 1544.5,678.1 1545.7,675.8 1547.0,673.6 1548.2,673.0 1549.5,676.2 1550.8,674.5 1552.0,676.2 1553.3,678.4 1554.5,678.9 1555.8,676.4 1557.0,678.5 1558.3,679.3 1559.6,679.6 1560.8,679.2 1562.1,676.8 1563.4,678.2 1564.7,679.2 1565.9,680.5 1567.2,683.1 1568.5,683.8 1569.7,680.4 1571.0,680.6 1572.2,681.8 1573.5,681.3 1574.8,683.5 1576.0,684.4 1577.3,685.3 1578.5,681.9 1579.8,683.5 1581.1,681.8 1582.3,676.8 1583.6,677.2 1584.8,678.9 1586.1,678.7 1587.4,677.6 1588.6,680.2 1589.9,679.3 1591.2,679.8 1592.4,678.7 1593.7,679.1 1594.9,681.3 1596.2,681.8 1597.5,679.1 1598.7,676.1 1600.0,674.3 1601.3,672.6 1602.5,672.7 1603.8,672.1 1605.0,673.4 1606.3,671.7 1607.6,670.4 1608.8,673.3 1610.1,674.0 1611.3,671.9 1612.6,673.6 1613.9,677.8 1615.1,679.8 1616.4,681.8 1617.4,661.6 1618.7,663.1 1620.0,661.1 1621.3,661.5 1622.6,661.7 1623.9,663.9 1625.2,662.3 1626.5,663.0 1627.7,662.7 1629.0,663.3 1630.3,663.2 1631.5,662.8 1632.8,664.8 1634.1,663.6 1635.3,666.2 1636.6,664.4 1637.8,666.8 1639.1,665.4 1640.3,659.5 1641.6,655.3 1642.9,654.1 1644.1,654.6 1645.4,653.1 1646.6,653.3 1647.9,653.4 1649.2,654.8 1650.5,654.5 1651.7,654.1 1653.0,653.4 1654.3,652.8" fill="none" stroke="#10f210" stroke-width="4.2" stroke-linejoin="round" stroke-linecap="round"/>
<polyline points="1654.3,652.8 1655.5,632.6 1656.1,660.0 1656.3,700.0 1656.4,838.0 1657.0,840.5" fill="none" stroke="#50e850" stroke-width="1.8" stroke-linejoin="round"/>
<polyline points="1657.0,840.5 1659.0,838.5 1662.0,835.5 1668.5,832.6 1680.0,830.8 1691.0,830.0 1720.0,828.8 1760.0,827.6 1800.0,826.6 1825.0,826.0" fill="none" stroke="#10f210" stroke-width="2.8" stroke-linejoin="round"/>
<line x1="1313.10" y1="509.10" x2="1826.80" y2="509.10" stroke="#000" stroke-width="2.6"/>
<line x1="1313.10" y1="864.00" x2="1826.80" y2="864.00" stroke="#000" stroke-width="2.6"/>
<line x1="1314.40" y1="507.80" x2="1314.40" y2="865.30" stroke="#000" stroke-width="2.6"/>
<line x1="1825.50" y1="507.80" x2="1825.50" y2="865.30" stroke="#000" stroke-width="2.6"/>
<line x1="1314.40" y1="838.80" x2="1323.70" y2="838.80" stroke="#000" stroke-width="2.5"/>
<line x1="1314.40" y1="788.20" x2="1323.70" y2="788.20" stroke="#000" stroke-width="2.5"/>
<line x1="1314.40" y1="737.60" x2="1323.70" y2="737.60" stroke="#000" stroke-width="2.5"/>
<line x1="1314.40" y1="687.00" x2="1323.70" y2="687.00" stroke="#000" stroke-width="2.5"/>
<line x1="1314.40" y1="636.40" x2="1323.70" y2="636.40" stroke="#000" stroke-width="2.5"/>
<line x1="1314.40" y1="585.80" x2="1323.70" y2="585.80" stroke="#000" stroke-width="2.5"/>
<line x1="1314.40" y1="535.20" x2="1323.70" y2="535.20" stroke="#000" stroke-width="2.5"/>
<line x1="1314.40" y1="813.50" x2="1319.40" y2="813.50" stroke="#000" stroke-width="2.5"/>
<line x1="1314.40" y1="762.90" x2="1319.40" y2="762.90" stroke="#000" stroke-width="2.5"/>
<line x1="1314.40" y1="712.30" x2="1319.40" y2="712.30" stroke="#000" stroke-width="2.5"/>
<line x1="1314.40" y1="661.70" x2="1319.40" y2="661.70" stroke="#000" stroke-width="2.5"/>
<line x1="1314.40" y1="611.10" x2="1319.40" y2="611.10" stroke="#000" stroke-width="2.5"/>
<line x1="1314.40" y1="560.50" x2="1319.40" y2="560.50" stroke="#000" stroke-width="2.5"/>
<line x1="1409.00" y1="864.00" x2="1409.00" y2="855.70" stroke="#000" stroke-width="2.5"/>
<line x1="1503.60" y1="864.00" x2="1503.60" y2="855.70" stroke="#000" stroke-width="2.5"/>
<line x1="1598.20" y1="864.00" x2="1598.20" y2="855.70" stroke="#000" stroke-width="2.5"/>
<line x1="1692.80" y1="864.00" x2="1692.80" y2="855.70" stroke="#000" stroke-width="2.5"/>
<line x1="1787.40" y1="864.00" x2="1787.40" y2="855.70" stroke="#000" stroke-width="2.5"/>
<line x1="1361.70" y1="864.00" x2="1361.70" y2="859.00" stroke="#000" stroke-width="2.5"/>
<line x1="1456.30" y1="864.00" x2="1456.30" y2="859.00" stroke="#000" stroke-width="2.5"/>
<line x1="1550.90" y1="864.00" x2="1550.90" y2="859.00" stroke="#000" stroke-width="2.5"/>
<line x1="1645.50" y1="864.00" x2="1645.50" y2="859.00" stroke="#000" stroke-width="2.5"/>
<line x1="1740.10" y1="864.00" x2="1740.10" y2="859.00" stroke="#000" stroke-width="2.5"/>
<text transform="translate(1304.70,845.80) scale(0.96,1)" font-size="22.8" text-anchor="end" font-weight="bold" fill="#000">2</text>
<text transform="translate(1304.70,795.20) scale(0.96,1)" font-size="22.8" text-anchor="end" font-weight="bold" fill="#000">4</text>
<text transform="translate(1304.70,744.60) scale(0.96,1)" font-size="22.8" text-anchor="end" font-weight="bold" fill="#000">6</text>
<text transform="translate(1304.70,694.00) scale(0.96,1)" font-size="22.8" text-anchor="end" font-weight="bold" fill="#000">8</text>
<text transform="translate(1304.70,643.40) scale(0.96,1)" font-size="22.8" text-anchor="end" font-weight="bold" fill="#000">10</text>
<text transform="translate(1304.70,592.80) scale(0.96,1)" font-size="22.8" text-anchor="end" font-weight="bold" fill="#000">12</text>
<text transform="translate(1304.70,542.20) scale(0.96,1)" font-size="22.8" text-anchor="end" font-weight="bold" fill="#000">14</text>
<text transform="translate(1314.40,890.30) scale(1.01,1)" font-size="23.3" text-anchor="middle" font-weight="bold" fill="#000">0</text>
<text transform="translate(1409.00,890.30) scale(1.01,1)" font-size="23.3" text-anchor="middle" font-weight="bold" fill="#000">5</text>
<text transform="translate(1503.60,890.30) scale(1.01,1)" font-size="23.3" text-anchor="middle" font-weight="bold" fill="#000">10</text>
<text transform="translate(1598.20,890.30) scale(1.01,1)" font-size="23.3" text-anchor="middle" font-weight="bold" fill="#000">15</text>
<text transform="translate(1692.80,890.30) scale(1.01,1)" font-size="23.3" text-anchor="middle" font-weight="bold" fill="#000">20</text>
<text transform="translate(1787.40,890.30) scale(1.01,1)" font-size="23.3" text-anchor="middle" font-weight="bold" fill="#000">25</text>
<text transform="translate(1564.50,919.00)" font-size="23.3" text-anchor="middle" font-weight="bold" fill="#000">Time (s)</text>
<text transform="translate(1269.00,702.00) rotate(-90) scale(0.975,1)" font-size="23" text-anchor="middle" font-weight="bold" fill="#000">Current (nA)</text>
<text transform="translate(1271.00,493.00)" font-size="37" text-anchor="start" font-weight="normal" fill="#000" stroke="#000" stroke-width="0.4">f</text>
<text transform="translate(1461.50,771.00)" font-size="21" text-anchor="start" font-weight="normal" fill="#222">on</text>
<text transform="translate(1660.50,763.00)" font-size="21" text-anchor="start" font-weight="normal" fill="#222">off</text>
<text transform="translate(1548.00,642.00)" font-size="20.5" text-anchor="start" font-weight="bold" fill="#111">2.26pa</text>
</g>
</svg>
</body>
</html>
